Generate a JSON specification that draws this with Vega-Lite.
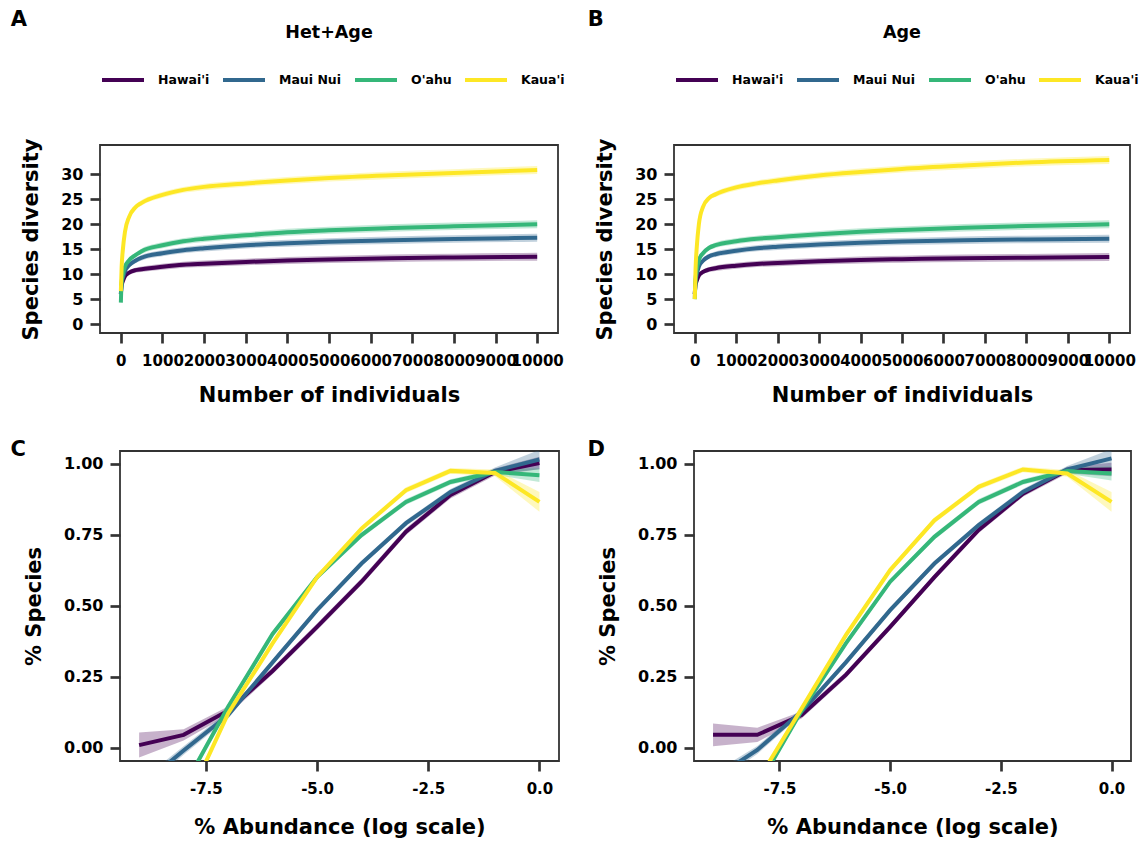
{
  "$schema": "https://vega.github.io/schema/vega-lite/v6.json",
  "padding": {"left": 9, "top": 8, "right": 0, "bottom": 0},
  "background": "white",
  "config": {
    "font": "DejaVu Sans",
    "locale": {"number": {"decimal": ".", "thousands": ",", "grouping": [3], "currency": ["$", ""], "minus": "-"}},
    "view": {"stroke": "#333333", "strokeWidth": 1.8},
    "axis": {"domain": false, "grid": false, "tickColor": "#333333", "tickWidth": 2.7, "tickSize": 10, "labelColor": "black", "labelFontWeight": "bold", "labelFontSize": 16, "labelPadding": 7, "titleFontSize": 21, "titleFontWeight": "bold", "titleColor": "black", "labelFlush": false, "labelOverlap": false},
    "axisX": {"labelFontSize": 15, "labelPadding": 10, "titlePadding": 16},
    "axisY": {"titlePadding": 19},
    "title": {"color": "black", "fontWeight": "bold"}
  },
  "datasets": {
    "divA": [
      {"island": "Hawai'i", "n": 1, "y": 6.0, "lo": 6.0, "hi": 6.0},
      {"island": "Hawai'i", "n": 20, "y": 7.8, "lo": 7.65, "hi": 7.95},
      {"island": "Hawai'i", "n": 50, "y": 8.6, "lo": 8.35, "hi": 8.85},
      {"island": "Hawai'i", "n": 100, "y": 9.6, "lo": 9.25, "hi": 9.95},
      {"island": "Hawai'i", "n": 200, "y": 10.3, "lo": 9.85, "hi": 10.75},
      {"island": "Hawai'i", "n": 350, "y": 10.8, "lo": 10.3, "hi": 11.3},
      {"island": "Hawai'i", "n": 500, "y": 11.0, "lo": 10.45, "hi": 11.55},
      {"island": "Hawai'i", "n": 1000, "y": 11.5, "lo": 10.9, "hi": 12.1},
      {"island": "Hawai'i", "n": 1500, "y": 11.9, "lo": 11.3, "hi": 12.5},
      {"island": "Hawai'i", "n": 2000, "y": 12.1, "lo": 11.45, "hi": 12.75},
      {"island": "Hawai'i", "n": 3000, "y": 12.45, "lo": 11.8, "hi": 13.1},
      {"island": "Hawai'i", "n": 4000, "y": 12.75, "lo": 12.05, "hi": 13.45},
      {"island": "Hawai'i", "n": 5000, "y": 12.95, "lo": 12.25, "hi": 13.65},
      {"island": "Hawai'i", "n": 6500, "y": 13.2, "lo": 12.45, "hi": 13.95},
      {"island": "Hawai'i", "n": 8000, "y": 13.35, "lo": 12.6, "hi": 14.1},
      {"island": "Hawai'i", "n": 10000, "y": 13.5, "lo": 12.7, "hi": 14.3},
      {"island": "Maui Nui", "n": 1, "y": 6.0, "lo": 6.0, "hi": 6.0},
      {"island": "Maui Nui", "n": 20, "y": 8.2, "lo": 8.05, "hi": 8.35},
      {"island": "Maui Nui", "n": 50, "y": 9.3, "lo": 9.05, "hi": 9.55},
      {"island": "Maui Nui", "n": 100, "y": 10.6, "lo": 10.25, "hi": 10.95},
      {"island": "Maui Nui", "n": 200, "y": 11.8, "lo": 11.35, "hi": 12.25},
      {"island": "Maui Nui", "n": 350, "y": 12.7, "lo": 12.2, "hi": 13.2},
      {"island": "Maui Nui", "n": 500, "y": 13.3, "lo": 12.75, "hi": 13.85},
      {"island": "Maui Nui", "n": 1000, "y": 14.2, "lo": 13.6, "hi": 14.8},
      {"island": "Maui Nui", "n": 1500, "y": 14.8, "lo": 14.2, "hi": 15.4},
      {"island": "Maui Nui", "n": 2000, "y": 15.2, "lo": 14.55, "hi": 15.85},
      {"island": "Maui Nui", "n": 3000, "y": 15.8, "lo": 15.15, "hi": 16.45},
      {"island": "Maui Nui", "n": 4000, "y": 16.2, "lo": 15.5, "hi": 16.9},
      {"island": "Maui Nui", "n": 5000, "y": 16.5, "lo": 15.8, "hi": 17.2},
      {"island": "Maui Nui", "n": 6500, "y": 16.8, "lo": 16.05, "hi": 17.55},
      {"island": "Maui Nui", "n": 8000, "y": 17.05, "lo": 16.3, "hi": 17.8},
      {"island": "Maui Nui", "n": 10000, "y": 17.3, "lo": 16.5, "hi": 18.1},
      {"island": "O'ahu", "n": 1, "y": 4.3, "lo": 4.3, "hi": 4.3},
      {"island": "O'ahu", "n": 20, "y": 8.5, "lo": 8.35, "hi": 8.65},
      {"island": "O'ahu", "n": 50, "y": 10.0, "lo": 9.75, "hi": 10.25},
      {"island": "O'ahu", "n": 100, "y": 11.5, "lo": 11.15, "hi": 11.85},
      {"island": "O'ahu", "n": 200, "y": 12.8, "lo": 12.35, "hi": 13.25},
      {"island": "O'ahu", "n": 350, "y": 13.8, "lo": 13.3, "hi": 14.3},
      {"island": "O'ahu", "n": 500, "y": 14.6, "lo": 14.05, "hi": 15.15},
      {"island": "O'ahu", "n": 1000, "y": 15.8, "lo": 15.2, "hi": 16.4},
      {"island": "O'ahu", "n": 1500, "y": 16.6, "lo": 16.0, "hi": 17.2},
      {"island": "O'ahu", "n": 2000, "y": 17.1, "lo": 16.45, "hi": 17.75},
      {"island": "O'ahu", "n": 3000, "y": 17.8, "lo": 17.15, "hi": 18.45},
      {"island": "O'ahu", "n": 4000, "y": 18.4, "lo": 17.7, "hi": 19.1},
      {"island": "O'ahu", "n": 5000, "y": 18.8, "lo": 18.1, "hi": 19.5},
      {"island": "O'ahu", "n": 6500, "y": 19.25, "lo": 18.5, "hi": 20.0},
      {"island": "O'ahu", "n": 8000, "y": 19.6, "lo": 18.85, "hi": 20.35},
      {"island": "O'ahu", "n": 10000, "y": 20.0, "lo": 19.2, "hi": 20.8},
      {"island": "Kaua'i", "n": 1, "y": 6.6, "lo": 6.6, "hi": 6.6},
      {"island": "Kaua'i", "n": 20, "y": 11.5, "lo": 11.35, "hi": 11.65},
      {"island": "Kaua'i", "n": 50, "y": 15.0, "lo": 14.75, "hi": 15.25},
      {"island": "Kaua'i", "n": 100, "y": 18.5, "lo": 18.15, "hi": 18.85},
      {"island": "Kaua'i", "n": 200, "y": 21.5, "lo": 21.05, "hi": 21.95},
      {"island": "Kaua'i", "n": 350, "y": 23.4, "lo": 22.9, "hi": 23.9},
      {"island": "Kaua'i", "n": 500, "y": 24.3, "lo": 23.75, "hi": 24.85},
      {"island": "Kaua'i", "n": 1000, "y": 25.9, "lo": 25.3, "hi": 26.5},
      {"island": "Kaua'i", "n": 1500, "y": 26.9, "lo": 26.3, "hi": 27.5},
      {"island": "Kaua'i", "n": 2000, "y": 27.5, "lo": 26.85, "hi": 28.15},
      {"island": "Kaua'i", "n": 3000, "y": 28.2, "lo": 27.55, "hi": 28.85},
      {"island": "Kaua'i", "n": 4000, "y": 28.8, "lo": 28.1, "hi": 29.5},
      {"island": "Kaua'i", "n": 5000, "y": 29.3, "lo": 28.6, "hi": 30.0},
      {"island": "Kaua'i", "n": 6500, "y": 29.85, "lo": 29.1, "hi": 30.6},
      {"island": "Kaua'i", "n": 8000, "y": 30.3, "lo": 29.55, "hi": 31.05},
      {"island": "Kaua'i", "n": 10000, "y": 30.9, "lo": 30.1, "hi": 31.7}
    ],
    "divB": [
      {"island": "Hawai'i", "n": 1, "y": 6.0, "lo": 6.0, "hi": 6.0},
      {"island": "Hawai'i", "n": 20, "y": 7.9, "lo": 7.75, "hi": 8.05},
      {"island": "Hawai'i", "n": 50, "y": 8.7, "lo": 8.45, "hi": 8.95},
      {"island": "Hawai'i", "n": 100, "y": 9.7, "lo": 9.35, "hi": 10.05},
      {"island": "Hawai'i", "n": 200, "y": 10.45, "lo": 10.0, "hi": 10.9},
      {"island": "Hawai'i", "n": 350, "y": 10.95, "lo": 10.45, "hi": 11.45},
      {"island": "Hawai'i", "n": 500, "y": 11.2, "lo": 10.65, "hi": 11.75},
      {"island": "Hawai'i", "n": 1000, "y": 11.7, "lo": 11.1, "hi": 12.3},
      {"island": "Hawai'i", "n": 1500, "y": 12.05, "lo": 11.45, "hi": 12.65},
      {"island": "Hawai'i", "n": 2000, "y": 12.25, "lo": 11.6, "hi": 12.9},
      {"island": "Hawai'i", "n": 3000, "y": 12.6, "lo": 11.95, "hi": 13.25},
      {"island": "Hawai'i", "n": 4000, "y": 12.85, "lo": 12.15, "hi": 13.55},
      {"island": "Hawai'i", "n": 5000, "y": 13.0, "lo": 12.3, "hi": 13.7},
      {"island": "Hawai'i", "n": 6500, "y": 13.2, "lo": 12.45, "hi": 13.95},
      {"island": "Hawai'i", "n": 8000, "y": 13.3, "lo": 12.55, "hi": 14.05},
      {"island": "Hawai'i", "n": 10000, "y": 13.45, "lo": 12.65, "hi": 14.25},
      {"island": "Maui Nui", "n": 1, "y": 6.0, "lo": 6.0, "hi": 6.0},
      {"island": "Maui Nui", "n": 20, "y": 8.5, "lo": 8.35, "hi": 8.65},
      {"island": "Maui Nui", "n": 50, "y": 10.0, "lo": 9.75, "hi": 10.25},
      {"island": "Maui Nui", "n": 100, "y": 11.5, "lo": 11.15, "hi": 11.85},
      {"island": "Maui Nui", "n": 200, "y": 12.7, "lo": 12.25, "hi": 13.15},
      {"island": "Maui Nui", "n": 350, "y": 13.6, "lo": 13.1, "hi": 14.1},
      {"island": "Maui Nui", "n": 500, "y": 14.0, "lo": 13.45, "hi": 14.55},
      {"island": "Maui Nui", "n": 1000, "y": 14.7, "lo": 14.1, "hi": 15.3},
      {"island": "Maui Nui", "n": 1500, "y": 15.2, "lo": 14.6, "hi": 15.8},
      {"island": "Maui Nui", "n": 2000, "y": 15.5, "lo": 14.85, "hi": 16.15},
      {"island": "Maui Nui", "n": 3000, "y": 15.95, "lo": 15.3, "hi": 16.6},
      {"island": "Maui Nui", "n": 4000, "y": 16.3, "lo": 15.6, "hi": 17.0},
      {"island": "Maui Nui", "n": 5000, "y": 16.55, "lo": 15.85, "hi": 17.25},
      {"island": "Maui Nui", "n": 6500, "y": 16.8, "lo": 16.05, "hi": 17.55},
      {"island": "Maui Nui", "n": 8000, "y": 16.95, "lo": 16.2, "hi": 17.7},
      {"island": "Maui Nui", "n": 10000, "y": 17.1, "lo": 16.3, "hi": 17.9},
      {"island": "O'ahu", "n": 1, "y": 5.0, "lo": 5.0, "hi": 5.0},
      {"island": "O'ahu", "n": 20, "y": 9.0, "lo": 8.85, "hi": 9.15},
      {"island": "O'ahu", "n": 50, "y": 11.0, "lo": 10.75, "hi": 11.25},
      {"island": "O'ahu", "n": 100, "y": 12.8, "lo": 12.45, "hi": 13.15},
      {"island": "O'ahu", "n": 200, "y": 14.2, "lo": 13.75, "hi": 14.65},
      {"island": "O'ahu", "n": 350, "y": 15.3, "lo": 14.8, "hi": 15.8},
      {"island": "O'ahu", "n": 500, "y": 15.8, "lo": 15.25, "hi": 16.35},
      {"island": "O'ahu", "n": 1000, "y": 16.6, "lo": 16.0, "hi": 17.2},
      {"island": "O'ahu", "n": 1500, "y": 17.1, "lo": 16.5, "hi": 17.7},
      {"island": "O'ahu", "n": 2000, "y": 17.4, "lo": 16.75, "hi": 18.05},
      {"island": "O'ahu", "n": 3000, "y": 18.0, "lo": 17.35, "hi": 18.65},
      {"island": "O'ahu", "n": 4000, "y": 18.5, "lo": 17.8, "hi": 19.2},
      {"island": "O'ahu", "n": 5000, "y": 18.85, "lo": 18.15, "hi": 19.55},
      {"island": "O'ahu", "n": 6500, "y": 19.3, "lo": 18.55, "hi": 20.05},
      {"island": "O'ahu", "n": 8000, "y": 19.65, "lo": 18.9, "hi": 20.4},
      {"island": "O'ahu", "n": 10000, "y": 20.0, "lo": 19.2, "hi": 20.8},
      {"island": "Kaua'i", "n": 1, "y": 5.0, "lo": 5.0, "hi": 5.0},
      {"island": "Kaua'i", "n": 20, "y": 11.0, "lo": 10.85, "hi": 11.15},
      {"island": "Kaua'i", "n": 50, "y": 15.5, "lo": 15.25, "hi": 15.75},
      {"island": "Kaua'i", "n": 100, "y": 20.0, "lo": 19.65, "hi": 20.35},
      {"island": "Kaua'i", "n": 200, "y": 23.5, "lo": 23.05, "hi": 23.95},
      {"island": "Kaua'i", "n": 350, "y": 25.3, "lo": 24.8, "hi": 25.8},
      {"island": "Kaua'i", "n": 500, "y": 26.0, "lo": 25.45, "hi": 26.55},
      {"island": "Kaua'i", "n": 1000, "y": 27.4, "lo": 26.8, "hi": 28.0},
      {"island": "Kaua'i", "n": 1500, "y": 28.2, "lo": 27.6, "hi": 28.8},
      {"island": "Kaua'i", "n": 2000, "y": 28.8, "lo": 28.15, "hi": 29.45},
      {"island": "Kaua'i", "n": 3000, "y": 29.8, "lo": 29.15, "hi": 30.45},
      {"island": "Kaua'i", "n": 4000, "y": 30.5, "lo": 29.8, "hi": 31.2},
      {"island": "Kaua'i", "n": 5000, "y": 31.1, "lo": 30.4, "hi": 31.8},
      {"island": "Kaua'i", "n": 6500, "y": 31.8, "lo": 31.05, "hi": 32.55},
      {"island": "Kaua'i", "n": 8000, "y": 32.4, "lo": 31.65, "hi": 33.15},
      {"island": "Kaua'i", "n": 10000, "y": 32.9, "lo": 32.1, "hi": 33.7}
    ],
    "sadC": [
      {"island": "Hawai'i", "a": -9, "y": 0.009, "lo": -0.035, "hi": 0.053},
      {"island": "Hawai'i", "a": -8, "y": 0.045, "lo": 0.025, "hi": 0.065},
      {"island": "Hawai'i", "a": -7, "y": 0.13, "lo": 0.115, "hi": 0.145},
      {"island": "Hawai'i", "a": -6, "y": 0.27, "lo": 0.258, "hi": 0.282},
      {"island": "Hawai'i", "a": -5, "y": 0.425, "lo": 0.413, "hi": 0.437},
      {"island": "Hawai'i", "a": -4, "y": 0.584, "lo": 0.572, "hi": 0.596},
      {"island": "Hawai'i", "a": -3, "y": 0.76, "lo": 0.748, "hi": 0.772},
      {"island": "Hawai'i", "a": -2, "y": 0.889, "lo": 0.877, "hi": 0.901},
      {"island": "Hawai'i", "a": -1, "y": 0.97, "lo": 0.958, "hi": 0.982},
      {"island": "Hawai'i", "a": 0, "y": 1.002, "lo": 0.98, "hi": 1.024},
      {"island": "Maui Nui", "a": -9, "y": -0.14, "lo": -0.16, "hi": -0.12},
      {"island": "Maui Nui", "a": -8, "y": -0.01, "lo": -0.025, "hi": 0.005},
      {"island": "Maui Nui", "a": -7, "y": 0.115, "lo": 0.103, "hi": 0.127},
      {"island": "Maui Nui", "a": -6, "y": 0.3, "lo": 0.29, "hi": 0.31},
      {"island": "Maui Nui", "a": -5, "y": 0.484, "lo": 0.474, "hi": 0.494},
      {"island": "Maui Nui", "a": -4, "y": 0.648, "lo": 0.638, "hi": 0.658},
      {"island": "Maui Nui", "a": -3, "y": 0.79, "lo": 0.78, "hi": 0.8},
      {"island": "Maui Nui", "a": -2, "y": 0.9, "lo": 0.89, "hi": 0.91},
      {"island": "Maui Nui", "a": -1, "y": 0.974, "lo": 0.962, "hi": 0.986},
      {"island": "Maui Nui", "a": 0, "y": 1.014, "lo": 0.98, "hi": 1.048},
      {"island": "O'ahu", "a": -9, "y": -0.42, "lo": -0.44, "hi": -0.4},
      {"island": "O'ahu", "a": -8, "y": -0.14, "lo": -0.155, "hi": -0.125},
      {"island": "O'ahu", "a": -7, "y": 0.144, "lo": 0.134, "hi": 0.154},
      {"island": "O'ahu", "a": -6, "y": 0.4, "lo": 0.39, "hi": 0.41},
      {"island": "O'ahu", "a": -5, "y": 0.6, "lo": 0.59, "hi": 0.61},
      {"island": "O'ahu", "a": -4, "y": 0.748, "lo": 0.738, "hi": 0.758},
      {"island": "O'ahu", "a": -3, "y": 0.865, "lo": 0.855, "hi": 0.875},
      {"island": "O'ahu", "a": -2, "y": 0.935, "lo": 0.925, "hi": 0.945},
      {"island": "O'ahu", "a": -1, "y": 0.97, "lo": 0.96, "hi": 0.98},
      {"island": "O'ahu", "a": 0, "y": 0.959, "lo": 0.935, "hi": 0.983},
      {"island": "Kaua'i", "a": -9, "y": -0.55, "lo": -0.57, "hi": -0.53},
      {"island": "Kaua'i", "a": -8, "y": -0.22, "lo": -0.235, "hi": -0.205},
      {"island": "Kaua'i", "a": -7, "y": 0.12, "lo": 0.11, "hi": 0.13},
      {"island": "Kaua'i", "a": -6, "y": 0.367, "lo": 0.357, "hi": 0.377},
      {"island": "Kaua'i", "a": -5, "y": 0.6, "lo": 0.59, "hi": 0.61},
      {"island": "Kaua'i", "a": -4, "y": 0.771, "lo": 0.761, "hi": 0.781},
      {"island": "Kaua'i", "a": -3, "y": 0.906, "lo": 0.896, "hi": 0.916},
      {"island": "Kaua'i", "a": -2, "y": 0.974, "lo": 0.964, "hi": 0.984},
      {"island": "Kaua'i", "a": -1, "y": 0.967, "lo": 0.955, "hi": 0.979},
      {"island": "Kaua'i", "a": 0, "y": 0.865, "lo": 0.83, "hi": 0.9}
    ],
    "sadD": [
      {"island": "Hawai'i", "a": -9, "y": 0.045, "lo": 0.005, "hi": 0.085},
      {"island": "Hawai'i", "a": -8, "y": 0.045, "lo": 0.02, "hi": 0.07},
      {"island": "Hawai'i", "a": -7, "y": 0.115, "lo": 0.103, "hi": 0.127},
      {"island": "Hawai'i", "a": -6, "y": 0.256, "lo": 0.245, "hi": 0.267},
      {"island": "Hawai'i", "a": -5, "y": 0.425, "lo": 0.414, "hi": 0.436},
      {"island": "Hawai'i", "a": -4, "y": 0.6, "lo": 0.589, "hi": 0.611},
      {"island": "Hawai'i", "a": -3, "y": 0.766, "lo": 0.755, "hi": 0.777},
      {"island": "Hawai'i", "a": -2, "y": 0.894, "lo": 0.883, "hi": 0.905},
      {"island": "Hawai'i", "a": -1, "y": 0.977, "lo": 0.965, "hi": 0.989},
      {"island": "Hawai'i", "a": 0, "y": 0.979, "lo": 0.955, "hi": 1.003},
      {"island": "Maui Nui", "a": -9, "y": -0.11, "lo": -0.13, "hi": -0.09},
      {"island": "Maui Nui", "a": -8, "y": -0.008, "lo": -0.022, "hi": 0.006},
      {"island": "Maui Nui", "a": -7, "y": 0.127, "lo": 0.116, "hi": 0.138},
      {"island": "Maui Nui", "a": -6, "y": 0.3, "lo": 0.29, "hi": 0.31},
      {"island": "Maui Nui", "a": -5, "y": 0.484, "lo": 0.474, "hi": 0.494},
      {"island": "Maui Nui", "a": -4, "y": 0.648, "lo": 0.638, "hi": 0.658},
      {"island": "Maui Nui", "a": -3, "y": 0.783, "lo": 0.773, "hi": 0.793},
      {"island": "Maui Nui", "a": -2, "y": 0.9, "lo": 0.89, "hi": 0.91},
      {"island": "Maui Nui", "a": -1, "y": 0.979, "lo": 0.967, "hi": 0.991},
      {"island": "Maui Nui", "a": 0, "y": 1.018, "lo": 0.985, "hi": 1.051},
      {"island": "O'ahu", "a": -9, "y": -0.41, "lo": -0.43, "hi": -0.39},
      {"island": "O'ahu", "a": -8, "y": -0.14, "lo": -0.155, "hi": -0.125},
      {"island": "O'ahu", "a": -7, "y": 0.13, "lo": 0.12, "hi": 0.14},
      {"island": "O'ahu", "a": -6, "y": 0.367, "lo": 0.357, "hi": 0.377},
      {"island": "O'ahu", "a": -5, "y": 0.584, "lo": 0.574, "hi": 0.594},
      {"island": "O'ahu", "a": -4, "y": 0.742, "lo": 0.732, "hi": 0.752},
      {"island": "O'ahu", "a": -3, "y": 0.865, "lo": 0.855, "hi": 0.875},
      {"island": "O'ahu", "a": -2, "y": 0.935, "lo": 0.925, "hi": 0.945},
      {"island": "O'ahu", "a": -1, "y": 0.974, "lo": 0.964, "hi": 0.984},
      {"island": "O'ahu", "a": 0, "y": 0.965, "lo": 0.94, "hi": 0.99},
      {"island": "Kaua'i", "a": -9, "y": -0.38, "lo": -0.4, "hi": -0.36},
      {"island": "Kaua'i", "a": -8, "y": -0.12, "lo": -0.135, "hi": -0.105},
      {"island": "Kaua'i", "a": -7, "y": 0.138, "lo": 0.128, "hi": 0.148},
      {"island": "Kaua'i", "a": -6, "y": 0.396, "lo": 0.386, "hi": 0.406},
      {"island": "Kaua'i", "a": -5, "y": 0.625, "lo": 0.615, "hi": 0.635},
      {"island": "Kaua'i", "a": -4, "y": 0.8, "lo": 0.79, "hi": 0.81},
      {"island": "Kaua'i", "a": -3, "y": 0.918, "lo": 0.908, "hi": 0.928},
      {"island": "Kaua'i", "a": -2, "y": 0.979, "lo": 0.969, "hi": 0.989},
      {"island": "Kaua'i", "a": -1, "y": 0.965, "lo": 0.953, "hi": 0.977},
      {"island": "Kaua'i", "a": 0, "y": 0.865, "lo": 0.83, "hi": 0.9}
    ]
  },
  "columns": 2,
  "align": "none",
  "spacing": {"row": 33, "column": 21},
  "resolve": {"scale": {"color": "independent"}, "legend": {"color": "independent"}},
  "concat": [
    {
      "spacing": 0,
      "resolve": {"scale": {"color": "independent"}, "legend": {"color": "independent"}},
      "hconcat": [
        {"width": 1, "height": 1, "data": {"values": []}, "mark": "point", "view": {"stroke": null}},
        {
          "title": {"text": "A", "anchor": "start", "fontSize": 21, "dx": -9, "offset": -7},
          "resolve": {"scale": {"color": "independent"}, "legend": {"color": "independent"}},
          "vconcat": [
            {
              "width": 458, "height": 188,
              "title": {"text": "Het+Age", "fontSize": 17.5, "frame": "group", "anchor": "middle", "offset": 16},
              "data": {"name": "divA"},
              "encoding": {
                "x": {"field": "n", "type": "quantitative", "scale": {"domain": [-500, 10500], "nice": false, "zero": false}, "axis": {"values": [0, 1000, 2000, 3000, 4000, 5000, 6000, 7000, 8000, 9000, 10000], "format": "d", "title": "Number of individuals"}},
                "color": {"field": "island", "type": "nominal", "scale": {"domain": ["Hawai'i", "Maui Nui", "O'ahu", "Kaua'i"], "range": ["#440154", "#31688E", "#35B779", "#FDE725"]},
                  "legend": {"orient": "top", "direction": "horizontal", "title": null, "offset": 57, "labelFontSize": 12.5, "labelFontWeight": "bold", "labelColor": "black", "symbolType": "stroke", "symbolSize": 1764, "symbolStrokeWidth": 4, "symbolOpacity": 1, "labelOffset": 12, "columnPadding": 5}}
              },
              "layer": [
                {"mark": {"type": "area", "opacity": 0.3, "clip": true, "interpolate": "monotone"},
                 "encoding": {
                   "y": {"field": "lo", "type": "quantitative", "scale": {"domain": [-1.8, 35.9], "nice": false, "zero": false}, "axis": {"values": [0, 5, 10, 15, 20, 25, 30]}, "title": "Species diversity"},
                   "y2": {"field": "hi"}
                 }},
                {"mark": {"type": "line", "strokeWidth": 4, "clip": true, "interpolate": "monotone"},
                 "encoding": {
                   "y": {"field": "y", "type": "quantitative", "axis": {"values": [0, 5, 10, 15, 20, 25, 30]}, "title": "Species diversity"}
                 }}
              ]
            }
          ]
        }
      ]
    },
    {
      "title": {"text": "B", "anchor": "start", "fontSize": 21, "dx": -6, "offset": -7},
      "resolve": {"scale": {"color": "independent"}, "legend": {"color": "independent"}},
      "vconcat": [
        {
          "width": 456, "height": 188,
          "title": {"text": "Age", "fontSize": 17.5, "frame": "group", "anchor": "middle", "offset": 16},
          "data": {"name": "divB"},
          "encoding": {
            "x": {"field": "n", "type": "quantitative", "scale": {"domain": [-500, 10500], "nice": false, "zero": false}, "axis": {"values": [0, 1000, 2000, 3000, 4000, 5000, 6000, 7000, 8000, 9000, 10000], "format": "d", "title": "Number of individuals"}},
            "color": {"field": "island", "type": "nominal", "scale": {"domain": ["Hawai'i", "Maui Nui", "O'ahu", "Kaua'i"], "range": ["#440154", "#31688E", "#35B779", "#FDE725"]},
              "legend": {"orient": "top", "direction": "horizontal", "title": null, "offset": 57, "labelFontSize": 12.5, "labelFontWeight": "bold", "labelColor": "black", "symbolType": "stroke", "symbolSize": 1764, "symbolStrokeWidth": 4, "symbolOpacity": 1, "labelOffset": 12, "columnPadding": 5}}
          },
          "layer": [
            {"mark": {"type": "area", "opacity": 0.3, "clip": true, "interpolate": "monotone"},
             "encoding": {
               "y": {"field": "lo", "type": "quantitative", "scale": {"domain": [-1.8, 35.9], "nice": false, "zero": false}, "axis": {"values": [0, 5, 10, 15, 20, 25, 30]}, "title": "Species diversity"},
               "y2": {"field": "hi"}
             }},
            {"mark": {"type": "line", "strokeWidth": 4, "clip": true, "interpolate": "monotone"},
             "encoding": {
               "y": {"field": "y", "type": "quantitative", "axis": {"values": [0, 5, 10, 15, 20, 25, 30]}, "title": "Species diversity"}
             }}
          ]
        }
      ]
    },
    {
      "spacing": 0,
      "hconcat": [
        {"width": 1, "height": 1, "data": {"values": []}, "mark": "point", "view": {"stroke": null}},
        {
          "title": {"text": "C", "anchor": "start", "fontSize": 21, "dx": -12, "offset": -10},
          "vconcat": [
            {
              "width": 439, "height": 310,
              "data": {"name": "sadC"},
              "encoding": {
                "x": {"field": "a", "type": "quantitative", "scale": {"domain": [-9.43, 0.44], "nice": false, "zero": false}, "axis": {"values": [-7.5, -5, -2.5, 0], "format": ".1f", "title": "% Abundance (log scale)", "titlePadding": 20}},
                "color": {"field": "island", "type": "nominal", "scale": {"domain": ["Hawai'i", "Maui Nui", "O'ahu", "Kaua'i"], "range": ["#440154", "#31688E", "#35B779", "#FDE725"]}, "legend": null}
              },
              "layer": [
                {"mark": {"type": "area", "opacity": 0.3, "clip": true},
                 "encoding": {
                   "y": {"field": "lo", "type": "quantitative", "scale": {"domain": [-0.047, 1.044], "nice": false, "zero": false}, "axis": {"values": [0, 0.25, 0.5, 0.75, 1], "format": ".2f"}, "title": "% Species"},
                   "y2": {"field": "hi"}
                 }},
                {"mark": {"type": "line", "strokeWidth": 4, "clip": true},
                 "encoding": {
                   "y": {"field": "y", "type": "quantitative", "axis": {"values": [0, 0.25, 0.5, 0.75, 1], "format": ".2f"}, "title": "% Species"}
                 }}
              ]
            }
          ]
        }
      ]
    },
    {
      "title": {"text": "D", "anchor": "start", "fontSize": 21, "dx": -9, "offset": -10},
      "vconcat": [
        {
          "width": 437, "height": 310,
          "data": {"name": "sadD"},
          "encoding": {
            "x": {"field": "a", "type": "quantitative", "scale": {"domain": [-9.43, 0.44], "nice": false, "zero": false}, "axis": {"values": [-7.5, -5, -2.5, 0], "format": ".1f", "title": "% Abundance (log scale)", "titlePadding": 20}},
            "color": {"field": "island", "type": "nominal", "scale": {"domain": ["Hawai'i", "Maui Nui", "O'ahu", "Kaua'i"], "range": ["#440154", "#31688E", "#35B779", "#FDE725"]}, "legend": null}
          },
          "layer": [
            {"mark": {"type": "area", "opacity": 0.3, "clip": true},
             "encoding": {
               "y": {"field": "lo", "type": "quantitative", "scale": {"domain": [-0.047, 1.044], "nice": false, "zero": false}, "axis": {"values": [0, 0.25, 0.5, 0.75, 1], "format": ".2f"}, "title": "% Species"},
               "y2": {"field": "hi"}
             }},
            {"mark": {"type": "line", "strokeWidth": 4, "clip": true},
             "encoding": {
               "y": {"field": "y", "type": "quantitative", "axis": {"values": [0, 0.25, 0.5, 0.75, 1], "format": ".2f"}, "title": "% Species"}
             }}
          ]
        }
      ]
    }
  ]
}
